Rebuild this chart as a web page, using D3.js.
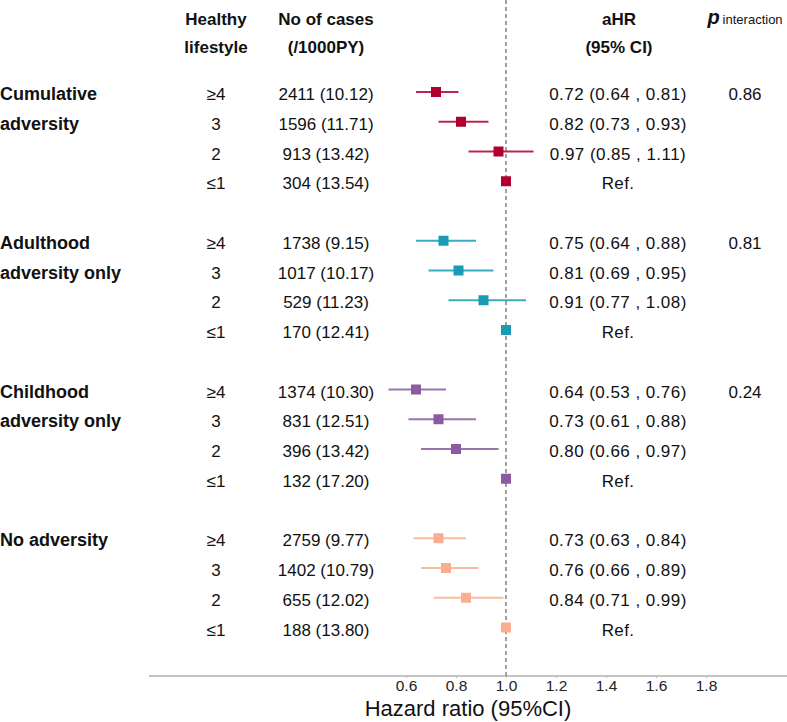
<!DOCTYPE html>
<html>
<head>
<meta charset="utf-8">
<script src="https://cdn.jsdelivr.net/npm/d3@7"></script>
<style>
  html, body { margin: 0; padding: 0; background: #fff; }
  svg { display: block; font-family: "Liberation Sans", Arial, sans-serif; }
</style>
</head>
<body>
<svg id="chart" width="787" height="722"></svg>
<script>
// ---------------- data ----------------
const groupLabels = [["Cumulative", "adversity"], ["Adulthood", "adversity only"], ["Childhood", "adversity only"], ["No adversity"]];
const groupColors = ["#B0002E", "#1A9BB5", "#8C5AA0", "#F9AE8F"];
const lifestyle = ["\u22654", "3", "2", "\u22641"];
const cases = [
  [2411, 1596, 913, 304],
  [1738, 1017, 529, 170],
  [1374, 831, 396, 132],
  [2759, 1402, 655, 188]
];
const rates = [
  ["10.12", "11.71", "13.42", "13.54"],
  ["9.15", "10.17", "11.23", "12.41"],
  ["10.30", "12.51", "13.42", "17.20"],
  ["9.77", "10.79", "12.02", "13.80"]
];
const hr = [
  [0.72, 0.82, 0.97, 1.00],
  [0.75, 0.81, 0.91, 1.00],
  [0.64, 0.73, 0.80, 1.00],
  [0.73, 0.76, 0.84, 1.00]
];
const hrLo = [
  [0.64, 0.73, 0.85, null],
  [0.64, 0.69, 0.77, null],
  [0.53, 0.61, 0.66, null],
  [0.63, 0.66, 0.71, null]
];
const hrHi = [
  [0.81, 0.93, 1.11, null],
  [0.88, 0.95, 1.08, null],
  [0.76, 0.88, 0.97, null],
  [0.84, 0.89, 0.99, null]
];
const pInteraction = ["0.86", "0.81", "0.24", ""];
const xTicks = [0.6, 0.8, 1.0, 1.2, 1.4, 1.6, 1.8];

// ---------------- layout ----------------
const svg = d3.select("#chart");
const x = d3.scaleLinear().domain([0.6, 1.8]).range([406, 706]);
const y = d3.scaleLinear().domain([0, 18]).range([92, 627.5]);
const axisY = 676;
const colLife = 216, colCases = 326, colHR = 618, colP = 745;
const fmt = d3.format(".2f");

const rows = [];
groupLabels.forEach((g, gi) => {
  lifestyle.forEach((l, li) => {
    rows.push({gi, li, idx: gi * 5 + li, color: groupColors[gi],
      life: l, cases: cases[gi][li], rate: rates[gi][li],
      hr: hr[gi][li], lo: hrLo[gi][li], hi: hrHi[gi][li]});
  });
});

// reference dashed line
svg.append("line")
  .attr("x1", x(1)).attr("x2", x(1))
  .attr("y1", 0).attr("y2", axisY)
  .attr("stroke", "#444").attr("stroke-width", 1)
  .attr("stroke-dasharray", "4,3");

// axis
const axisG = svg.append("g").attr("transform", `translate(0,${axisY})`);
axisG.append("line").attr("x1", 149).attr("x2", 787).attr("y1", 0).attr("y2", 0)
  .attr("stroke", "#888").attr("stroke-width", 1);
const axis = d3.axisBottom(x).tickValues(xTicks).tickFormat(d3.format(".1f")).tickSize(2).tickSizeOuter(0);
axisG.call(axis);
axisG.select(".domain").remove();
axisG.selectAll(".tick line").attr("stroke", "#bbb");
axisG.selectAll(".tick text")
  .attr("font-family", "Liberation Sans, Arial, sans-serif")
  .attr("font-size", 15.5).attr("fill", "#222").attr("dy", "0.8em").attr("y", 3);
svg.append("text").attr("x", 468).attr("y", 716).attr("text-anchor", "middle")
  .attr("font-size", 22).attr("fill", "#111").text("Hazard ratio (95%CI)");

// headers
const hdr = svg.append("g").attr("font-weight", "bold").attr("font-size", 17).attr("fill", "#111").attr("text-anchor", "middle");
hdr.append("text").attr("x", colLife).attr("y", 25).text("Healthy");
hdr.append("text").attr("x", colLife).attr("y", 53).text("lifestyle");
hdr.append("text").attr("x", colCases).attr("y", 25).text("No of cases");
hdr.append("text").attr("x", colCases).attr("y", 53).text("(/1000PY)");
hdr.append("text").attr("x", colHR + 1).attr("y", 25).text("aHR");
hdr.append("text").attr("x", colHR + 1).attr("y", 53).text("(95% CI)");
const pt = svg.append("text").attr("x", colP).attr("y", 24).attr("text-anchor", "middle").attr("fill", "#111");
pt.append("tspan").attr("font-weight", "bold").attr("font-style", "italic").attr("font-size", 20).text("p");
pt.append("tspan").attr("font-size", 13).attr("dx", 3).text("interaction");

// group labels
groupLabels.forEach((lines, gi) => {
  lines.forEach((t, k) => {
    svg.append("text").attr("x", 0).attr("y", y(gi * 5 + k) + 8)
      .attr("font-weight", "bold").attr("font-size", 18).attr("fill", "#111").text(t);
  });
  if (pInteraction[gi]) {
    svg.append("text").attr("x", colP).attr("y", y(gi * 5) + 8).attr("text-anchor", "middle")
      .attr("font-size", 17).attr("fill", "#111").text(pInteraction[gi]);
  }
});

// row texts
const rowG = svg.selectAll("g.row").data(rows).enter().append("g").attr("class", "row");
rowG.append("text").attr("x", colLife).attr("y", d => y(d.idx) + 8).attr("text-anchor", "middle")
  .attr("font-size", 17).attr("fill", "#111").text(d => d.life);
rowG.append("text").attr("x", colCases).attr("y", d => y(d.idx) + 8).attr("text-anchor", "middle")
  .attr("font-size", 17).attr("fill", "#111").text(d => `${d.cases} (${d.rate})`);
rowG.append("text").attr("x", colHR).attr("y", d => y(d.idx) + 8).attr("text-anchor", "middle")
  .attr("font-size", 17).attr("fill", "#111")
  .attr("letter-spacing", d => d.lo == null ? 0.3 : 0.45)
  .text(d => d.lo == null ? "Ref." : `${fmt(d.hr)} (${fmt(d.lo)} , ${fmt(d.hi)})`);

// CI lines
rowG.filter(d => d.lo != null).append("line")
  .attr("x1", d => x(d.lo)).attr("x2", d => x(d.hi))
  .attr("y1", d => y(d.idx)).attr("y2", d => y(d.idx))
  .attr("stroke", d => d.color).attr("stroke-width", 2).attr("stroke-opacity", 0.85);
// markers
const ms = 10;
rowG.append("rect")
  .attr("x", d => x(d.hr) - ms / 2).attr("y", d => y(d.idx) - ms / 2)
  .attr("width", ms).attr("height", ms).attr("fill", d => d.color);
</script>
</body>
</html>
